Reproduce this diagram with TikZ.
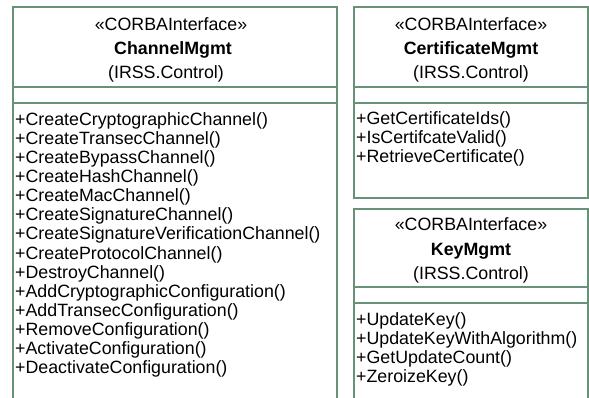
\documentclass[tikz,border=0pt]{standalone}
\usepackage{fontspec}
\setmainfont{Liberation Sans}
\definecolor{umlline}{RGB}{104,146,120}
\begin{document}
\begin{tikzpicture}[x=1pt,y=-1pt,
  classbox/.style={draw=umlline,line width=1.6pt},
  divider/.style={draw=umlline,line width=1.6pt},
  txt/.style={inner sep=0pt,font=\fontsize{17.8}{19}\selectfont},
  hdr/.style={txt,anchor=base},
  title/.style={txt,anchor=base,font=\fontsize{17.8}{19}\selectfont\bfseries},
  meth/.style={txt,anchor=base west}]
\fill[white] (0,0) rectangle (589,398);
\useasboundingbox (0,0) rectangle (589,398);
\clip (0,0) rectangle (589,398);

% ChannelMgmt
\draw[classbox] (13,7) rectangle (337,420);
\draw[divider] (13,87) -- (337,87);
\draw[divider] (13,103) -- (337,103);
\node[hdr] (chst) at (171,31) {«CORBAInterface»};
\node[title] (chnm) at (173,55) {ChannelMgmt};
\node[hdr] (chpk) at (166,79) {(IRSS.Control)};
\foreach \t [count=\i] in {
  +CreateCryptographicChannel(),
  +CreateTransecChannel(),
  +CreateBypassChannel(),
  +CreateHashChannel(),
  +CreateMacChannel(),
  +CreateSignatureChannel(),
  +CreateSignatureVerificationChannel(),
  +CreateProtocolChannel(),
  +DestroyChannel(),
  +AddCryptographicConfiguration(),
  +AddTransecConfiguration(),
  +RemoveConfiguration(),
  +ActivateConfiguration(),
  +DeactivateConfiguration()}
  \node[meth] (chm\i) at (15,{126+19*(\i-1)}) {\t};

% CertificateMgmt
\draw[classbox] (354,7) rectangle (588,198);
\draw[divider] (354,87) -- (588,87);
\draw[divider] (354,103) -- (588,103);
\node[hdr] (cest) at (471,31) {«CORBAInterface»};
\node[title] (cenm) at (471,55) {CertificateMgmt};
\node[hdr] (cepk) at (471,79) {(IRSS.Control)};
\foreach \t [count=\i] in {
  +GetCertificateIds(),
  +IsCertifcateValid(),
  +RetrieveCertificate()}
  \node[meth] (cem\i) at (356,{125+19*(\i-1)}) {\t};

% KeyMgmt
\draw[classbox] (354,209) rectangle (588,420);
\draw[divider] (354,287) -- (588,287);
\draw[divider] (354,303) -- (588,303);
\node[hdr] (kyst) at (471,230) {«CORBAInterface»};
\node[title] (kynm) at (471,255) {KeyMgmt};
\node[hdr] (kypk) at (471,279) {(IRSS.Control)};
\foreach \t [count=\i] in {
  +UpdateKey(),
  +UpdateKeyWithAlgorithm(),
  +GetUpdateCount(),
  +ZeroizeKey()}
  \node[meth] (kym\i) at (356,{325+19*(\i-1)}) {\t};
\end{tikzpicture}
\end{document}
